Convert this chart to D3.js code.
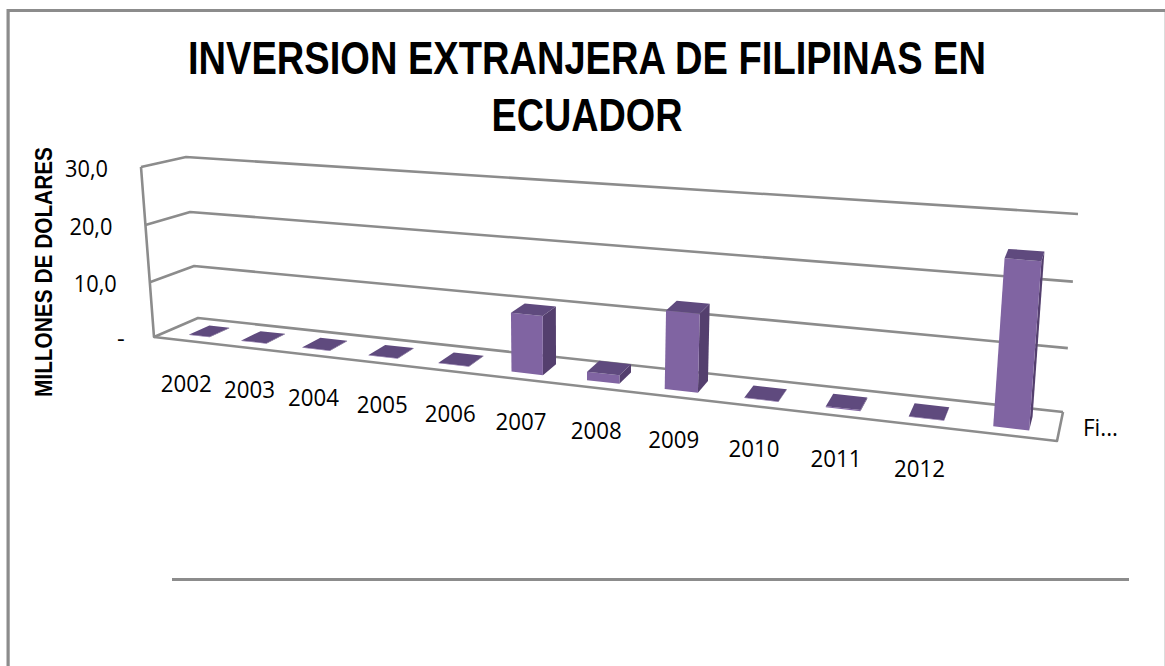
<!DOCTYPE html>
<html>
<head>
<meta charset="utf-8">
<script src="https://cdn.jsdelivr.net/npm/d3@7"></script>
<style>
  html, body { margin: 0; padding: 0; background: #fff; }
  svg { display: block; }
  text { fill: #000; }
  .tick-label { font-family: "Open Sans", sans-serif; font-size: 24px; }
</style>
</head>
<body>
<svg id="chart" width="1165" height="666"></svg>
<script>
var years = ["2002", "2003", "2004", "2005", "2006", "2007", "2008", "2009", "2010", "2011", "2012", ""];
var values = [0.1, 0.1, 0.1, 0.1, 0.1, 10, 1.5, 12.8, 0.1, 0.2, 0.1, 25];
var valueTicks = [0, 10, 20, 30];
var tickText = ["-", "10,0", "20,0", "30,0"];
var seriesName = "Fi...";
var titleLines = ["INVERSION EXTRANJERA DE FILIPINAS EN", "ECUADOR"];
var yTitle = "MILLONES DE DOLARES";

var svg = d3.select("#chart");

// corners of the 3d box
var box = {
  front: { bl: [154, 337], br: [1057, 441], tl: [141, 167], tr: [1073, 233] },
  back: { bl: [198, 318], br: [1063, 412], tl: [186, 157], tr: [1078, 214] }
};

// slots get wider to the right (perspective)
var cat = d3.scalePow().exponent(1.18).domain([0, years.length]).range([0.015, 0.995]);
var val = d3.scaleLinear().domain([0, 30]).range([0, 1]);
var valBend = d3.scalePow().exponent(1.03).domain([0, 1]).range([0, 1]);
// labels do not follow the floor exactly
var labelNudge = d3.scaleLinear().domain([0, 1, 3, 5, 7, 10]).range([-2, 6, 8, 1, -2, -4]);

function lerp(a, b, t) {
  return [a[0] + (b[0] - a[0]) * t, a[1] + (b[1] - a[1]) * t];
}

// u = 0..1 along the floor, v = value, d = depth 0 front to 1 back
function project(u, v, d) {
  var h = valBend(val(v));
  var f = lerp(lerp(box.front.bl, box.front.br, u), lerp(box.front.tl, box.front.tr, u), h);
  var b = lerp(lerp(box.back.bl, box.back.br, u), lerp(box.back.tl, box.back.tr, u), h);
  return lerp(f, b, d);
}

function poly(pts, fill) {
  return svg.append("polygon")
    .attr("points", pts.map(function(p) { return p.join(","); }).join(" "))
    .attr("fill", fill);
}

function wire(pts, width) {
  return svg.append("polyline")
    .attr("points", pts.map(function(p) { return p.join(","); }).join(" "))
    .attr("fill", "none")
    .attr("stroke", "#8c8c8c")
    .attr("stroke-width", width || 2.6)
    .attr("stroke-linejoin", "round");
}

// outer frame
svg.append("line").attr("x1", 1164.5).attr("x2", 1164.5).attr("y1", 12).attr("y2", 666)
  .attr("stroke", "#dcdcdc").attr("stroke-width", 1);
svg.append("line").attr("x1", 9.5).attr("x2", 9.5).attr("y1", 12).attr("y2", 666)
  .attr("stroke", "#cfcfcf").attr("stroke-width", 1);
svg.append("path")
  .attr("d", "M8,666V10.5H1165")
  .attr("fill", "none")
  .attr("stroke", "#8c8c8c")
  .attr("stroke-width", 3);

// legend line under the plot
svg.append("rect")
  .attr("x", 172).attr("y", 578).attr("width", 957).attr("height", 3)
  .attr("fill", "#8c8c8c");

// title
svg.selectAll("text.title")
  .data(titleLines)
  .enter()
  .append("text")
  .attr("class", "title")
  .attr("x", 587)
  .attr("y", function(d, i) { return 74 + i * 57; })
  .attr("text-anchor", "middle")
  .attr("font-family", "Liberation Sans, Arial, sans-serif")
  .attr("font-weight", "bold")
  .attr("font-size", 46)
  .attr("textLength", function(d) { return d.length > 10 ? 798 : 191; })
  .attr("lengthAdjust", "spacingAndGlyphs")
  .text(function(d) { return d; });

// y title
svg.append("text")
  .attr("transform", "translate(52,397) rotate(-90)")
  .attr("font-family", "Liberation Sans, Arial, sans-serif")
  .attr("font-weight", "bold")
  .attr("font-size", 24)
  .attr("textLength", 250)
  .attr("lengthAdjust", "spacingAndGlyphs")
  .text(yTitle);

// walls and gridlines
valueTicks.forEach(function(t, i) {
  wire([project(0, t, 0), project(0, t, 1), project(1, t, 1)]);
  var label = svg.append("text")
    .attr("class", "tick-label")
    .attr("x", project(0, t, 0)[0] - (t === 0 ? 37 : 76))
    .attr("y", project(0, t, 0)[1] + 10)
    .text(tickText[i]);
  if (t !== 0) label.attr("textLength", 43).attr("lengthAdjust", "spacingAndGlyphs");
});
wire([project(0, 30, 0), project(0, 0, 0), project(1, 0, 0), project(1, 0, 1)]);

// bars, drawn left to right
var d0 = 0.25, d1 = 0.72, gap = 0.29;
values.forEach(function(v, i) {
  var x0 = cat(i + gap), x1 = cat(i + 1 - gap);
  var fbl = project(x0, 0, d0), fbr = project(x1, 0, d0);
  var ftl = project(x0, v, d0), ftr = project(x1, v, d0);
  var btl = project(x0, v, d1), btr = project(x1, v, d1), bbr = project(x1, 0, d1);
  poly([fbr, ftr, btr, bbr], "#543f6e");
  poly([fbl, fbr, ftr, ftl], "#8064a2");
  poly([ftl, ftr, btr, btl], "#5f4a7e");
});

// category labels
svg.selectAll("text.year")
  .data(years.filter(function(d) { return d; }))
  .enter()
  .append("text")
  .attr("class", "tick-label year")
  .attr("x", function(d, i) { return project(cat(i + 0.5), 0, 0)[0] + labelNudge(i); })
  .attr("y", function(d, i) { return project(cat(i + 0.5), 0, 0)[1] + 51; })
  .attr("text-anchor", "middle")
  .attr("textLength", 51)
  .attr("lengthAdjust", "spacingAndGlyphs")
  .text(function(d) { return d; });

svg.append("text")
  .attr("class", "tick-label")
  .attr("x", 1083)
  .attr("y", 436)
  .attr("textLength", 35)
  .attr("lengthAdjust", "spacingAndGlyphs")
  .text(seriesName);
</script>
</body>
</html>
